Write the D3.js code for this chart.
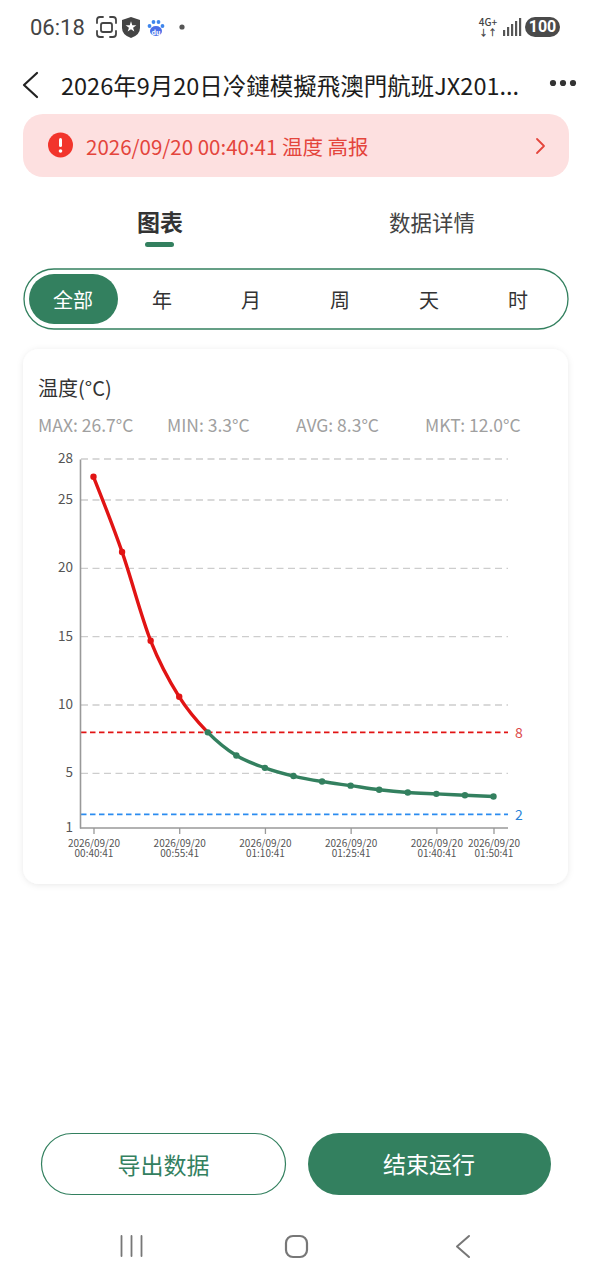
<!DOCTYPE html>
<html>
<head>
<meta charset="utf-8">
<script src="https://cdn.jsdelivr.net/npm/d3@7"></script>
<style>
  html, body { margin: 0; padding: 0; background: #fff; }
  svg { display: block; }
  text { font-family: "Noto Sans CJK SC", "Noto Sans", sans-serif; }
</style>
</head>
<body>
<script>
var sample_times = [
  "2026/09/20 00:40:41", "2026/09/20 00:45:41", "2026/09/20 00:50:41", "2026/09/20 00:55:41",
  "2026/09/20 01:00:41", "2026/09/20 01:05:41", "2026/09/20 01:10:41", "2026/09/20 01:15:41",
  "2026/09/20 01:20:41", "2026/09/20 01:25:41", "2026/09/20 01:30:41", "2026/09/20 01:35:41",
  "2026/09/20 01:40:41", "2026/09/20 01:45:41", "2026/09/20 01:50:41"
];
var temperature = [26.7, 21.2, 14.7, 10.6, 8.0, 6.3, 5.4, 4.8, 4.4, 4.1, 3.8, 3.6, 3.5, 3.4, 3.3];
var y_ticks = [1, 5, 10, 15, 20, 25, 28];
var x_ticks = ["2026/09/20 00:40:41", "2026/09/20 00:55:41", "2026/09/20 01:10:41",
               "2026/09/20 01:25:41", "2026/09/20 01:40:41", "2026/09/20 01:50:41"];
var high_limit = 8;
var low_limit = 2;
var range_tabs = ["全部", "年", "月", "周", "天", "时"];
var range_tab_x = [73, 162, 251, 340, 429, 518];
var stat_labels = ["MAX: 26.7°C", "MIN: 3.3°C", "AVG: 8.3°C", "MKT: 12.0°C"];
var stat_x = [38, 167, 296, 425];

var width = 591;
var height = 1280;
var green = "#33805f";
var red = "#e11414";
var blue = "#2b8cf0";

var svg = d3.select("body").append("svg").attr("width", width).attr("height", height);

var defs = svg.append("defs");
var shadow = defs.append("filter").attr("id", "card_shadow")
  .attr("x", "-5%").attr("y", "-5%").attr("width", "110%").attr("height", "110%");
shadow.append("feDropShadow").attr("dx", 0).attr("dy", 1).attr("stdDeviation", 3)
  .attr("flood-color", "#000").attr("flood-opacity", 0.09);

function label(x, y, str, size, color, anchor, weight) {
  // central baseline sits a bit low with the CJK font
  return svg.append("text")
    .attr("x", x).attr("y", y - 1.5)
    .attr("dominant-baseline", "central")
    .attr("text-anchor", anchor || "start")
    .attr("font-size", size)
    .attr("font-weight", weight || 400)
    .attr("fill", color)
    .text(str);
}

function stroke_path(d, color, w) {
  return svg.append("path").attr("d", d).attr("fill", "none")
    .attr("stroke", color).attr("stroke-width", w)
    .attr("stroke-linecap", "round").attr("stroke-linejoin", "round");
}

// status bar
label(30, 28.5, "06:18", 22, "#444").style("font-family", "Roboto, sans-serif");
stroke_path("M97 23v-3q0-3 3-3h3M110 17h3q3 0 3 3v3M116 31v3q0 3-3 3h-3M103 37h-3q-3 0-3-3v-3", "#444", 1.8);
svg.append("rect").attr("x", 101).attr("y", 23).attr("width", 11).attr("height", 9).attr("rx", 2)
  .attr("fill", "none").attr("stroke", "#444").attr("stroke-width", 1.8);
svg.append("path").attr("d", "M122 20l9-3 9 3v8q0 7-9 10-9-3-9-10z").attr("fill", "#444");
svg.append("path").attr("d", d3.symbol(d3.symbolStar, 36)()).attr("transform", "translate(131,27)").attr("fill", "#fff");
svg.append("ellipse").attr("cx", 156).attr("cy", 31).attr("rx", 6).attr("ry", 5).attr("fill", "#4a6ee8");
[[149.5, 26], [153.5, 22], [158.5, 22], [162.5, 26]].forEach(function(p) {
  svg.append("circle").attr("cx", p[0]).attr("cy", p[1]).attr("r", 1.9).attr("fill", "#3f86ec");
});
label(156, 33, "du", 7, "#fff", "middle", 700);
svg.append("circle").attr("cx", 182).attr("cy", 27).attr("r", 2.6).attr("fill", "#555");
label(488, 23, "4G+", 10, "#444", "middle", 500);
label(488, 33.5, "↓↑", 9, "#444", "middle", 700);
[[503, 30], [507, 27], [511, 24], [515, 21], [519, 18]].forEach(function(b) {
  svg.append("rect").attr("x", b[0]).attr("y", b[1]).attr("width", 2.2).attr("height", 36 - b[1]).attr("fill", "#555");
});
svg.append("rect").attr("x", 525).attr("y", 17).attr("width", 35).attr("height", 20).attr("rx", 10).attr("fill", "#4a4a4a");
label(542.5, 28, "100", 16, "#fff", "middle", 700).style("font-family", "Roboto, sans-serif");

// title bar
stroke_path("M37 73L24 85L37 97", "#222", 2.2);
label(61, 86, "2026年9月20日冷鏈模擬飛澳門航班JX201...", 23.5, "#1c1c1c");
[553, 563, 573].forEach(function(cx) {
  svg.append("circle").attr("cx", cx).attr("cy", 83).attr("r", 3.1).attr("fill", "#333");
});

// alert banner
svg.append("rect").attr("x", 23).attr("y", 114).attr("width", 546).attr("height", 63).attr("rx", 20).attr("fill", "#fde0e0");
svg.append("circle").attr("cx", 60.5).attr("cy", 145).attr("r", 12.5).attr("fill", "#f2352c");
svg.append("rect").attr("x", 59).attr("y", 138).attr("width", 3).attr("height", 9).attr("rx", 1.5).attr("fill", "#fff");
svg.append("circle").attr("cx", 60.5).attr("cy", 151).attr("r", 1.8).attr("fill", "#fff");
label(86, 147.5, "2026/09/20 00:40:41 温度 高报", 20.5, "#e4453c");
stroke_path("M537 139L544 146L537 153", "#e4453c", 1.8);

// tabs
label(160, 222.5, "图表", 23, "#333", "middle", 700);
label(432, 222.5, "数据详情", 21.5, "#444", "middle");
svg.append("rect").attr("x", 145).attr("y", 242).attr("width", 29).attr("height", 5).attr("rx", 2.5).attr("fill", green);

// range selector
svg.append("rect").attr("x", 24).attr("y", 269).attr("width", 544).attr("height", 60).attr("rx", 30)
  .attr("fill", "#fff").attr("stroke", green).attr("stroke-width", 1.3);
svg.append("rect").attr("x", 29).attr("y", 274).attr("width", 89).attr("height", 50).attr("rx", 25).attr("fill", green);
range_tabs.forEach(function(t, i) {
  label(range_tab_x[i], 301, t, 20, i === 0 ? "#fff" : "#333", "middle");
});

// chart card
svg.append("rect").attr("x", 23).attr("y", 349).attr("width", 545).attr("height", 535).attr("rx", 16)
  .attr("fill", "#fff").attr("filter", "url(#card_shadow)");
label(38, 389, "温度(°C)", 20, "#333");
stat_labels.forEach(function(s, i) {
  label(stat_x[i], 426, s, 17.5, "#a0a0a0");
});

// chart
var parse_time = d3.timeParse("%Y/%m/%d %H:%M:%S");
var format_date = d3.timeFormat("%Y/%m/%d");
var format_clock = d3.timeFormat("%H:%M:%S");
var data = sample_times.map(function(t, i) {
  return { time: parse_time(t), value: temperature[i] };
});

var plot_left = 80;
var plot_right = 508;
var x = d3.scaleTime()
  .domain(d3.extent(data, function(d) { return d.time; }))
  .range([93.5, 493.5]);
var y = d3.scaleLinear().domain([1, 28]).range([828, 459]);

// gridlines
svg.append("g").selectAll("line")
  .data(y_ticks.filter(function(v) { return v !== 1; }))
  .enter().append("line")
  .attr("x1", plot_left + 1).attr("x2", plot_right)
  .attr("y1", function(d) { return y(d); }).attr("y2", function(d) { return y(d); })
  .attr("stroke", "#cdcdcd").attr("stroke-width", 1.4).attr("stroke-dasharray", "7 4.5");

// limit lines
[[high_limit, red, "#dc4a4a"], [low_limit, blue, "#2b84d8"]].forEach(function(l) {
  svg.append("line")
    .attr("x1", plot_left + 1).attr("x2", plot_right)
    .attr("y1", y(l[0])).attr("y2", y(l[0]))
    .attr("stroke", l[1]).attr("stroke-width", 1.6).attr("stroke-dasharray", "5.5 3.5");
  label(515, y(l[0]) + 1, l[0], 14, l[2]);
});

// axes
var y_axis = d3.axisLeft(y).tickValues(y_ticks).tickSize(0).tickPadding(7).tickFormat(d3.format("d"));
var y_g = svg.append("g").attr("transform", "translate(" + plot_left + ",0)").call(y_axis);
y_g.select(".domain").attr("stroke", "#999").attr("stroke-width", 1.6);
y_g.selectAll("text").attr("font-size", 13.5).attr("fill", "#555").attr("dy", "0.27em")
  .style("font-family", '"Noto Sans CJK SC", sans-serif');

var x_axis = d3.axisBottom(x).tickValues(x_ticks.map(parse_time)).tickSize(6).tickFormat("");
var x_g = svg.append("g").attr("transform", "translate(0," + y(1) + ")").call(x_axis);
x_g.select(".domain").remove();
x_g.selectAll("line").attr("stroke", "#999").attr("stroke-width", 1.3);
x_g.selectAll(".tick").select("text").each(function(d) {
  var t = d3.select(this).attr("y", 0).attr("dy", null)
    .attr("font-size", 10).attr("fill", "#555")
    .style("font-family", '"Noto Sans CJK SC", sans-serif');
  t.append("tspan").attr("x", 0).attr("y", 19).text(format_date(d));
  t.append("tspan").attr("x", 0).attr("y", 29).text(format_clock(d));
});
svg.append("line").attr("x1", plot_left).attr("x2", plot_right).attr("y1", y(1)).attr("y2", y(1))
  .attr("stroke", "#999").attr("stroke-width", 1.6);

// temperature curve, split in colour at the high limit
var line = d3.line()
  .x(function(d) { return x(d.time); })
  .y(function(d) { return y(d.value); })
  .curve(d3.curveMonotoneX);

defs.append("clipPath").attr("id", "above_limit").append("rect")
  .attr("x", plot_left).attr("y", y(28)).attr("width", plot_right - plot_left).attr("height", y(high_limit) - y(28));
defs.append("clipPath").attr("id", "below_limit").append("rect")
  .attr("x", plot_left).attr("y", y(high_limit)).attr("width", plot_right - plot_left).attr("height", y(1) - y(high_limit));

svg.append("path").datum(data).attr("d", line).attr("fill", "none")
  .attr("stroke", red).attr("stroke-width", 3.4).attr("clip-path", "url(#above_limit)");
svg.append("path").datum(data).attr("d", line).attr("fill", "none")
  .attr("stroke", green).attr("stroke-width", 3.4).attr("clip-path", "url(#below_limit)");

svg.append("g").selectAll("circle")
  .data(data)
  .enter().append("circle")
  .attr("cx", function(d) { return x(d.time); })
  .attr("cy", function(d) { return y(d.value); })
  .attr("r", 3.2)
  .attr("fill", function(d) { return d.value > high_limit ? red : green; });

// bottom buttons
svg.append("rect").attr("x", 41.5).attr("y", 1133.5).attr("width", 244).attr("height", 61).attr("rx", 30.5)
  .attr("fill", "#fff").attr("stroke", green).attr("stroke-width", 1.2);
label(163.5, 1165.5, "导出数据", 23, green, "middle");
svg.append("rect").attr("x", 308).attr("y", 1133).attr("width", 243).attr("height", 62).attr("rx", 31).attr("fill", green);
label(429, 1164.5, "结束运行", 23, "#fff", "middle");

// navigation bar
[121.5, 131.5, 141.5].forEach(function(bx) {
  stroke_path("M" + bx + " 1236V1256", "#777", 1.8);
});
svg.append("rect").attr("x", 286).attr("y", 1236).attr("width", 21).attr("height", 21).attr("rx", 7)
  .attr("fill", "none").attr("stroke", "#777").attr("stroke-width", 2.2);
stroke_path("M469 1236L457 1246.5L469 1257", "#777", 2);
</script>
</body>
</html>
